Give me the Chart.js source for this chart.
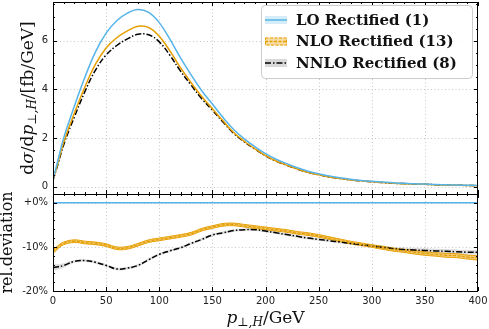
<!DOCTYPE html>
<html>
<head>
<meta charset="utf-8">
<script src="https://cdn.jsdelivr.net/npm/chart.js@4"></script>
<style>
  html, body { margin: 0; padding: 0; background: #fff; }
</style>
</head>
<body>
<canvas id="myChart" width="489" height="329"></canvas>
<script>
// transverse momentum of the Higgs, GeV
const pt = [0, 5, 10, 20, 30, 40, 50, 60, 70, 80, 90, 100, 110, 120, 130, 140, 150, 160, 170, 180, 190, 200,
  210, 220, 230, 240, 250, 260, 270, 280, 290, 300, 310, 320, 330, 340, 350, 360, 370, 380, 390, 400];

// d sigma / d pT  [fb/GeV]
const lo = [0.3, 1.15, 2.0, 3.3, 4.5, 5.55, 6.32, 6.83, 7.14, 7.29, 7.17, 6.75, 6.07, 5.3, 4.6, 3.95, 3.4, 2.85, 2.35, 1.97, 1.65, 1.36,
  1.13, 0.95, 0.78, 0.64, 0.53, 0.44, 0.37, 0.31, 0.26, 0.22, 0.19, 0.16, 0.14, 0.12, 0.11, 0.09, 0.08, 0.07, 0.06, 0.05];
const nlo = [0.27, 1.04, 1.82, 3.01, 4.10, 5.04, 5.71, 6.13, 6.41, 6.60, 6.55, 6.19, 5.59, 4.90, 4.28, 3.71, 3.21, 2.71, 2.23, 1.87, 1.56, 1.28,
  1.06, 0.89, 0.73, 0.59, 0.49, 0.40, 0.34, 0.28, 0.24, 0.20, 0.17, 0.14, 0.12, 0.11, 0.10, 0.08, 0.07, 0.06, 0.05, 0.04];
const nnlo = [0.26, 0.98, 1.72, 2.86, 3.91, 4.80, 5.42, 5.81, 6.08, 6.27, 6.25, 5.96, 5.41, 4.76, 4.18, 3.62, 3.15, 2.66, 2.20, 1.85, 1.55, 1.27,
  1.05, 0.88, 0.72, 0.59, 0.49, 0.40, 0.34, 0.28, 0.24, 0.20, 0.17, 0.14, 0.13, 0.11, 0.10, 0.08, 0.07, 0.06, 0.05, 0.04];

// relative deviation from LO, percent
const loDev = [0, 0, 0, 0, 0, 0, 0, 0, 0, 0, 0, 0, 0, 0, 0, 0, 0, 0, 0, 0, 0, 0,
  0, 0, 0, 0, 0, 0, 0, 0, 0, 0, 0, 0, 0, 0, 0, 0, 0, 0, 0, 0];
const nloDev = [-11.1, -10.0, -9.2, -8.7, -9.0, -9.2, -9.6, -10.3, -10.2, -9.5, -8.7, -8.3, -7.9, -7.5, -7.0, -6.1, -5.5, -5.0, -4.9, -5.2, -5.5, -5.8,
  -6.1, -6.4, -6.8, -7.1, -7.5, -8.0, -8.5, -9.0, -9.4, -9.8, -10.2, -10.6, -10.9, -11.2, -11.5, -11.7, -11.9, -12.0, -12.3, -12.5];
const nnloDev = [-14.7, -14.5, -14.2, -13.3, -13.1, -13.5, -14.2, -15.0, -14.8, -14.2, -12.9, -11.7, -10.9, -10.2, -9.2, -8.3, -7.3, -6.8, -6.3, -6.1, -6.1, -6.4,
  -6.8, -7.2, -7.6, -8.0, -8.3, -8.6, -8.9, -9.2, -9.5, -9.8, -10.1, -10.4, -10.6, -10.7, -10.8, -10.9, -11.0, -11.1, -11.2, -11.2];
// half width of the uncertainty bands, percent
const nloBand = [0.4, 0.35, 0.3, 0.3, 0.3, 0.3, 0.3, 0.3, 0.3, 0.3, 0.3, 0.3, 0.3, 0.3, 0.3, 0.3, 0.3, 0.3, 0.3, 0.3, 0.3, 0.3,
  0.3, 0.3, 0.3, 0.3, 0.3, 0.3, 0.3, 0.3, 0.3, 0.3, 0.35, 0.35, 0.35, 0.4, 0.4, 0.4, 0.45, 0.45, 0.45, 0.5];
const nnloBand = [0.7, 0.6, 0.5, 0.35, 0.3, 0.3, 0.3, 0.3, 0.3, 0.3, 0.3, 0.3, 0.3, 0.3, 0.3, 0.3, 0.3, 0.3, 0.3, 0.3, 0.3, 0.3,
  0.3, 0.3, 0.3, 0.3, 0.3, 0.3, 0.3, 0.3, 0.35, 0.35, 0.4, 0.4, 0.45, 0.45, 0.5, 0.5, 0.5, 0.5, 0.5, 0.5];

const seriesNames = ['LO Rectified (1)', 'NLO Rectified (13)', 'NNLO Rectified (8)'];
const xTicks = [0, 50, 100, 150, 200, 250, 300, 350, 400];
const yTicks = [0, 2, 4, 6];
const devTicks = [-20, -10, 0];

const BLUE = '#56B4E9';
const ORANGE = '#E69F00';

const xy = (arr) => pt.map((x, i) => ({ x: x, y: arr[i] }));

// draws a row of text pieces (some as subscripts), centred on cx
function drawRich(ctx, parts, cx, baseY) {
  ctx.textAlign = 'left';
  let w = 0;
  for (const p of parts) { ctx.font = p.font; w += ctx.measureText(p.t).width; }
  let x = cx - w / 2;
  for (const p of parts) {
    ctx.font = p.font;
    ctx.fillText(p.t, x, baseY + (p.dy || 0));
    x += ctx.measureText(p.t).width;
  }
}

const serif = '"DejaVu Serif"';

const framePlugin = {
  id: 'frame',
  beforeDatasetsDraw(chart) {
    const { ctx, scales: { x, y, yr } } = chart;
    ctx.save();
    ctx.strokeStyle = '#b8b8b8';
    ctx.lineWidth = 0.8;
    ctx.setLineDash([1, 2.5]);
    ctx.beginPath();
    for (const v of xTicks) {
      if (v <= 0 || v >= 400) continue;
      const px = Math.round(x.getPixelForValue(v)) + 0.5;
      ctx.moveTo(px, y.top); ctx.lineTo(px, y.bottom);
      ctx.moveTo(px, yr.top); ctx.lineTo(px, yr.bottom);
    }
    for (const v of yTicks) {
      const py = Math.round(y.getPixelForValue(v)) + 0.5;
      ctx.moveTo(x.left, py); ctx.lineTo(x.right, py);
    }
    for (const v of devTicks) {
      if (v <= -20) continue;
      const py = Math.round(yr.getPixelForValue(v)) + 0.5;
      ctx.moveTo(x.left, py); ctx.lineTo(x.right, py);
    }
    ctx.stroke();
    ctx.restore();
  },
  afterDraw(chart) {
    const { ctx, scales: { x, y, yr } } = chart;
    ctx.save();
    ctx.strokeStyle = '#000';
    ctx.lineWidth = 1;
    const L = x.left, R = x.right;

    // panel frames
    for (const s of [y, yr]) {
      ctx.strokeRect(L + 0.5, Math.round(s.top) + 0.5, R - L - 1, Math.round(s.bottom) - Math.round(s.top));
    }

    // inward ticks
    ctx.beginPath();
    for (let v = 0; v <= 400; v += 10) {
      const px = Math.round(x.getPixelForValue(v)) + 0.5;
      const len = v % 50 === 0 ? 4 : 2;
      for (const s of [y, yr]) {
        ctx.moveTo(px, s.top); ctx.lineTo(px, s.top + len);
        ctx.moveTo(px, s.bottom); ctx.lineTo(px, s.bottom - len);
      }
    }
    for (let v = 0; v <= 7.5; v += 0.5) {
      const py = Math.round(y.getPixelForValue(v)) + 0.5;
      const len = v % 2 === 0 ? 4 : 2;
      ctx.moveTo(L, py); ctx.lineTo(L + len, py);
      ctx.moveTo(R, py); ctx.lineTo(R - len, py);
    }
    for (let v = -20; v <= 2; v += 2) {
      const py = Math.round(yr.getPixelForValue(v)) + 0.5;
      const len = v % 10 === 0 ? 4 : 2;
      ctx.moveTo(L, py); ctx.lineTo(L + len, py);
      ctx.moveTo(R, py); ctx.lineTo(R - len, py);
    }
    ctx.stroke();

    // axis titles
    ctx.fillStyle = '#111';
    ctx.textBaseline = 'alphabetic';
    const big = '17px ' + serif, bigI = 'italic 17px ' + serif, sub = 'italic 12px ' + serif;
    drawRich(ctx, [
      { t: 'p', font: bigI },
      { t: '⊥,H', font: sub, dy: 3 },
      { t: '/GeV', font: big }
    ], (L + R) / 2, 323);

    ctx.save();
    ctx.translate(33, (y.top + y.bottom) / 2);
    ctx.rotate(-Math.PI / 2);
    drawRich(ctx, [
      { t: 'd', font: big },
      { t: 'σ', font: bigI },
      { t: '/d', font: big },
      { t: 'p', font: bigI },
      { t: '⊥,H', font: sub, dy: 3 },
      { t: '/[fb/GeV]', font: big }
    ], 0, 0);
    ctx.restore();

    ctx.save();
    ctx.translate(12, (yr.top + yr.bottom) / 2);
    ctx.rotate(-Math.PI / 2);
    drawRich(ctx, [{ t: 'rel.deviation', font: '16px ' + serif }], 0, 0);
    ctx.restore();

    // legend
    const bx = 261, by = 5, bw = 211, bh = 73;
    ctx.beginPath();
    ctx.roundRect(bx + 0.5, by + 0.5, bw, bh, 4);
    ctx.fillStyle = 'rgba(255,255,255,0.85)';
    ctx.fill();
    ctx.strokeStyle = '#cccccc';
    ctx.stroke();
    const rows = [20, 41.5, 63];
    const sx0 = 265, sx1 = 287;
    // LO
    ctx.fillStyle = 'rgba(86,180,233,0.25)';
    ctx.fillRect(sx0, rows[0] - 4, sx1 - sx0, 8);
    ctx.strokeStyle = BLUE; ctx.lineWidth = 1.5;
    ctx.beginPath(); ctx.moveTo(sx0, rows[0]); ctx.lineTo(sx1, rows[0]); ctx.stroke();
    // NLO
    ctx.fillStyle = 'rgba(230,159,0,0.35)';
    ctx.fillRect(sx0, rows[1] - 4, sx1 - sx0, 8);
    ctx.strokeStyle = ORANGE; ctx.lineWidth = 1;
    ctx.setLineDash([3, 1.5]);
    ctx.strokeRect(sx0 + 0.5, rows[1] - 3.5, sx1 - sx0 - 1, 7);
    ctx.lineWidth = 1.5;
    ctx.beginPath(); ctx.moveTo(sx0, rows[1]); ctx.lineTo(sx1, rows[1]); ctx.stroke();
    // NNLO
    ctx.setLineDash([]);
    ctx.fillStyle = 'rgba(0,0,0,0.15)';
    ctx.fillRect(sx0, rows[2] - 4, sx1 - sx0, 8);
    ctx.strokeStyle = '#000'; ctx.lineWidth = 1.5;
    ctx.setLineDash([6, 2, 1.5, 2]);
    ctx.beginPath(); ctx.moveTo(sx0, rows[2]); ctx.lineTo(sx1, rows[2]); ctx.stroke();
    ctx.setLineDash([]);

    ctx.fillStyle = '#111';
    ctx.font = 'bold 15px ' + serif;
    ctx.textBaseline = 'middle';
    ctx.textAlign = 'left';
    seriesNames.forEach((name, i) => ctx.fillText(name, 296, rows[i] + 1));
    ctx.restore();
  }
};

const tickFont = { family: 'DejaVu Sans', size: 10 };
const noPad = (s) => { s.paddingTop = 0; s.paddingBottom = 0; s.paddingLeft = 0; s.paddingRight = 0; };

const ctx = document.getElementById('myChart');

new Chart(ctx, {
  type: 'line',
  data: {
    datasets: [
      // upper panel
      { label: seriesNames[0], data: xy(lo), yAxisID: 'y', borderColor: BLUE, borderWidth: 1.5 },
      { label: seriesNames[1], data: xy(nlo), yAxisID: 'y', borderColor: ORANGE, borderWidth: 1.5 },
      { label: seriesNames[2], data: xy(nnlo), yAxisID: 'y', borderColor: '#000', borderWidth: 1.5, borderDash: [6, 2, 1.5, 2] },
      // lower panel
      { label: 'LO dev', data: xy(loDev), yAxisID: 'yr', borderColor: BLUE, borderWidth: 1.5 },
      { label: 'NLO dev', data: xy(nloDev), yAxisID: 'yr', borderColor: ORANGE, borderWidth: 1.2, borderDash: [3, 1.5] },
      { label: 'NNLO dev', data: xy(nnloDev), yAxisID: 'yr', borderColor: '#000', borderWidth: 1.5, borderDash: [6, 2, 1.5, 2] },
      { label: 'NLO hi', data: xy(nloDev.map((v, i) => v + nloBand[i])), yAxisID: 'yr', borderColor: ORANGE, borderWidth: 1, fill: false },
      { label: 'NLO lo', data: xy(nloDev.map((v, i) => v - nloBand[i])), yAxisID: 'yr', borderColor: ORANGE, borderWidth: 1, fill: '-1', backgroundColor: 'rgba(230,159,0,0.55)' },
      { label: 'NNLO hi', data: xy(nnloDev.map((v, i) => v + nnloBand[i])), yAxisID: 'yr', borderWidth: 0, borderColor: 'rgba(0,0,0,0)', fill: false },
      { label: 'NNLO lo', data: xy(nnloDev.map((v, i) => v - nnloBand[i])), yAxisID: 'yr', borderWidth: 0, borderColor: 'rgba(0,0,0,0)', fill: '-1', backgroundColor: 'rgba(0,0,0,0.13)' }
    ]
  },
  options: {
    responsive: false,
    animation: false,
    devicePixelRatio: 1,
    elements: { point: { radius: 0 }, line: { tension: 0.4 } },
    layout: { padding: { top: 2, right: 11, left: 0, bottom: 0 } },
    plugins: { legend: { display: false }, tooltip: { enabled: false } },
    scales: {
      x: {
        type: 'linear', min: 0, max: 400,
        grid: { display: false, drawTicks: false }, border: { display: false },
        afterBuildTicks: (s) => { s.ticks = xTicks.map(v => ({ value: v })); },
        ticks: { autoSkip: false, padding: 4, color: '#222', maxRotation: 0, font: tickFont },
        afterFit: (s) => { s.height = 38; noPad(s); }
      },
      yr: {
        type: 'linear', position: 'left', stack: 'panels', stackWeight: 97,
        min: -20, max: 2,
        grid: { display: false, drawTicks: false }, border: { display: false },
        afterBuildTicks: (s) => { s.ticks = devTicks.map(v => ({ value: v })); },
        ticks: {
          autoSkip: false, padding: 5, color: '#222', font: tickFont,
          callback: (v) => (v === 0 ? '+0%' : v + '%')
        },
        afterFit: (s) => { s.width = 53; noPad(s); }
      },
      y: {
        type: 'linear', position: 'left', stack: 'panels', stackWeight: 192,
        min: -0.3, max: 7.6,
        grid: { display: false, drawTicks: false }, border: { display: false },
        afterBuildTicks: (s) => { s.ticks = yTicks.map(v => ({ value: v })); },
        ticks: { autoSkip: false, padding: 5, color: '#222', font: tickFont },
        afterFit: (s) => { s.width = 53; noPad(s); }
      }
    }
  },
  plugins: [framePlugin]
});
</script>
</body>
</html>
